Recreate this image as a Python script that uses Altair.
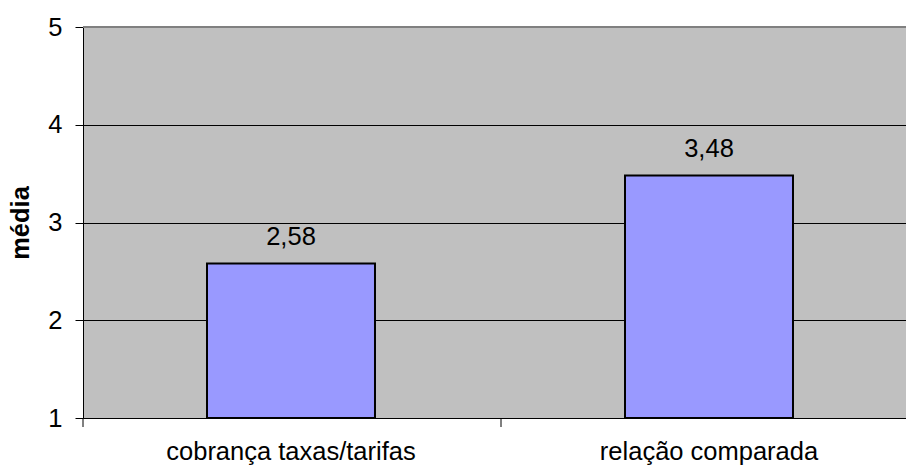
import altair as alt
import pandas as pd

categories = ["cobrança taxas/tarifas", "relação comparada"]
values = [2.58, 3.48]
y_ticks = [1, 2, 3, 4, 5]

df = pd.DataFrame({"cat": categories, "v": values, "base": [1, 1]})

FONT = "Liberation Sans"
FS = 25.5
W, H = 823, 391

x_scale = alt.Scale(domain=categories, paddingInner=0.5981, paddingOuter=0.2835, align=0.5232)
y_scale = alt.Scale(domain=[1, 5], nice=False, zero=False)

x_enc = alt.X("cat:N", scale=x_scale, sort=categories,
              axis=alt.Axis(title=None, labelAngle=0, labelFontSize=FS, labelFont=FONT,
                            labelColor="black", ticks=False, tickSize=0, labelPadding=21,
                            labelLimit=0, domainColor="black", domainWidth=1))
y_enc = alt.Y("v:Q", scale=y_scale,
              axis=alt.Axis(title="média", values=y_ticks, format="d", labelFontSize=FS,
                            labelFont=FONT, labelColor="black", tickSize=8, tickColor="black",
                            labelPadding=13, domainColor="black", grid=True, gridColor="black",
                            gridWidth=1, titleFont=FONT, titleFontSize=FS,
                            titleFontWeight="bold", titleColor="black", titlePadding=14))

bars = alt.Chart(df).mark_bar(color="#9999FF", stroke="black", strokeWidth=2).encode(
    x=x_enc, y=y_enc, y2="base:Q"
)

labels = alt.Chart(df).mark_text(font=FONT, fontSize=FS, color="black",
                                 baseline="alphabetic", dy=-19).encode(
    x=alt.X("cat:N", scale=x_scale, sort=categories),
    y=alt.Y("v:Q", scale=y_scale),
    text=alt.Text("lbl:N"),
).transform_calculate(lbl="replace(format(datum.v, '.2f'), '.', ',')")

top_border = alt.Chart(pd.DataFrame({"t": [5]})).mark_rule(color="#808080", strokeWidth=2).encode(
    y=alt.Y("t:Q", scale=y_scale)
)

cat_ticks = alt.Chart(pd.DataFrame({"p": [0]})).mark_rule(color="black", strokeWidth=1).encode(
    x=alt.value(0), y=alt.value(H), y2=alt.value(H + 9)
)
mid_tick = alt.Chart(pd.DataFrame({"p": [1]})).mark_rule(color="black", strokeWidth=1).encode(
    x=alt.value(418), y=alt.value(H), y2=alt.value(H + 9)
)

chart = alt.layer(bars, labels, top_border, cat_ticks, mid_tick).properties(
    width=W, height=H,
    background="white",
    padding={"left": 83, "top": 27, "right": 0, "bottom": 48},
    autosize=alt.AutoSizeParams(type="none"),
).configure_view(fill="#C0C0C0", stroke=None)

chart.save("out.html", embed_options={"renderer": "svg", "actions": False})
